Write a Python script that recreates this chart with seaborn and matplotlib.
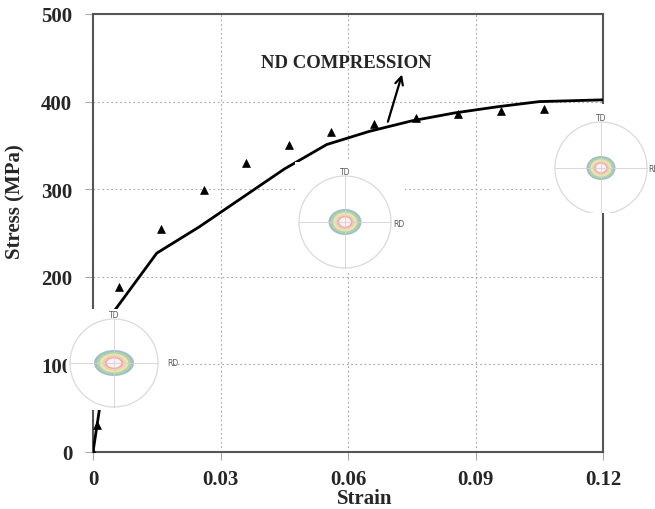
import matplotlib
matplotlib.use("Agg")
import matplotlib.pyplot as plt
from matplotlib.patches import Circle, Ellipse
import seaborn as sns
import pandas as pd

# Simulated (model) flow curve
model_strain = [0.0, 0.005, 0.015, 0.025, 0.035, 0.045, 0.055, 0.065,
                0.075, 0.085, 0.095, 0.105, 0.12]
model_stress = [0, 161, 227, 257, 290, 323, 351, 366, 378, 387, 394, 400, 402]

# Experimental points
exp_strain = [0.0, 0.001, 0.006, 0.016, 0.026, 0.036, 0.046, 0.056, 0.066,
              0.076, 0.086, 0.096, 0.106]
exp_stress = [0, 31, 188, 255, 299, 330, 350, 365, 374, 381, 386, 389, 392]

x_ticks = [0, 0.03, 0.06, 0.09, 0.12]
x_tick_labels = ["0", "0.03", "0.06", "0.09", "0.12"]
y_ticks = [0, 100, 200, 300, 400, 500]

model_df = pd.DataFrame({"Strain": model_strain, "Stress": model_stress})
exp_df = pd.DataFrame({"Strain": exp_strain, "Stress": exp_stress})

sns.set_style("ticks")
plt.rcParams["font.family"] = ["Liberation Serif", "DejaVu Serif"]
plt.rcParams["font.weight"] = "bold"

W, H = 655, 510
fig = plt.figure(figsize=(W / 100, H / 100), dpi=100)
ax = fig.add_axes([93 / W, 1 - 453 / H, (603 - 93) / W, (453 - 15) / H])

sns.lineplot(data=model_df, x="Strain", y="Stress", sort=False,
             color="black", linewidth=2.0, ax=ax, zorder=3)
sns.scatterplot(data=exp_df, x="Strain", y="Stress", marker="^", s=32,
                color="black", edgecolor="black", linewidth=0.5, ax=ax, zorder=4)

ax.set_xlim(0, 0.12)
ax.set_ylim(0, 500)
ax.set_xticks(x_ticks)
ax.set_xticklabels(x_tick_labels)
ax.set_yticks(y_ticks)
ax.tick_params(axis="both", direction="out", length=6, width=0.8,
               color="#aaaaaa", labelsize=15, pad=9)
ax.tick_params(axis="x", pad=6)
for lab in ax.get_xticklabels() + ax.get_yticklabels():
    lab.set_fontweight("bold")

ax.grid(True, linestyle=(0, (1.5, 2.5)), color="#a5a5a5", linewidth=0.8)
for s in ax.spines.values():
    s.set_color("#555555")
    s.set_linewidth(1.5)

ax.set_xlabel("Strain", fontsize=15, fontweight="bold")
ax.set_ylabel("Stress (MPa)", fontsize=15, fontweight="bold")
ax.xaxis.set_label_coords(0.533, -0.082)
ax.yaxis.set_label_coords(-0.133, 0.575)

ax.annotate("", xy=(0.0729, 434), xytext=(0.0692, 374),
            arrowprops=dict(arrowstyle="->", color="black", lw=1.6,
                            mutation_scale=14))
ax.text(0.0595, 445, "ND COMPRESSION", ha="center", va="center",
        fontsize=13.5, fontweight="bold")

# Pole-figure insets: (box left, top, right, bottom), centre, radius, ring size
ring_colors = ["#8fb3c8", "#b5d99c", "#f3eda8", "#f7c6c6", "#f1a5a5", "white"]
ring_scale = [1.0, 0.86, 0.72, 0.58, 0.46, 0.36]
insets = [
    dict(box=(67, 310, 174, 411), c=(114, 364), r=44, ring=(40, 26),
         td=(114, 316), rd=(167, 364)),
    dict(box=(295, 163, 405, 272), c=(345, 223), r=46, ring=(33, 26),
         td=(345, 173), rd=(393, 225)),
    dict(box=(551, 105, 662, 214), c=(601, 169), r=46, ring=(29, 24),
         td=(601, 119), rd=(648, 170)),
]
for ins in insets:
    l, t, r, b = ins["box"]
    iax = fig.add_axes([l / W, 1 - b / H, (r - l) / W, (b - t) / H])
    iax.set_xlim(l, r)
    iax.set_ylim(b, t)
    iax.set_facecolor("white")
    iax.set_xticks([])
    iax.set_yticks([])
    for s in iax.spines.values():
        s.set_visible(False)
    cx, cy = ins["c"]
    rad = ins["r"]
    iax.plot([cx - rad, cx + rad], [cy, cy], color="#d2d2d2", lw=0.6)
    iax.plot([cx, cx], [cy - rad, cy + rad], color="#d2d2d2", lw=0.6)
    iax.add_patch(Circle((cx, cy), rad, fill=False, edgecolor="#dadada", lw=0.9))
    rw, rh = ins["ring"]
    for col, sc in zip(ring_colors, ring_scale):
        iax.add_patch(Ellipse((cx, cy), rw * sc, rh * sc, facecolor=col,
                              edgecolor="none", alpha=0.85))
    iax.text(*ins["td"], "TD", ha="center", va="center", fontsize=5.5,
             color="#555555", family="DejaVu Sans", fontweight="normal")
    iax.text(*ins["rd"], "RD", ha="left", va="center", fontsize=5.5,
             color="#555555", family="DejaVu Sans", fontweight="normal")

fig.savefig("out.png", dpi=100, facecolor="white")
